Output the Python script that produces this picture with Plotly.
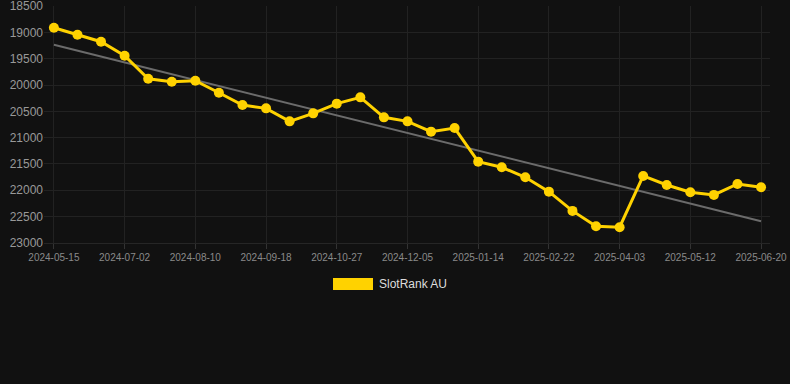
import numpy as np
import plotly.graph_objects as go

dates = [
    "2024-05-15", "2024-05-31", "2024-06-16", "2024-07-02", "2024-07-15",
    "2024-07-28", "2024-08-10", "2024-08-23", "2024-09-05", "2024-09-18",
    "2024-10-01", "2024-10-14", "2024-10-27", "2024-11-09", "2024-11-22",
    "2024-12-05", "2024-12-18", "2024-12-31", "2025-01-14", "2025-01-27",
    "2025-02-09", "2025-02-22", "2025-03-07", "2025-03-20", "2025-04-03",
    "2025-04-16", "2025-04-29", "2025-05-12", "2025-05-25", "2025-06-07",
    "2025-06-20",
]
rank_values = [
    18912, 19045, 19177, 19443, 19880, 19937, 19918, 20146, 20380, 20443,
    20690, 20538, 20354, 20234, 20614, 20690, 20886, 20817, 21456, 21563,
    21753, 22026, 22392, 22683, 22702, 21728, 21899, 22037, 22088, 21880,
    21943,
]
tick_labels = dates[::3]
y_ticks = [18500, 19000, 19500, 20000, 20500, 21000, 21500, 22000, 22500, 23000]
series_name = "SlotRank AU"

# linear trend (least squares) of the series
idx = np.arange(len(rank_values))
slope, intercept = np.polyfit(idx, rank_values, 1)
trend = slope * idx + intercept

GOLD = "#FFD200"
BG = "#111111"

fig = go.Figure()
fig.add_trace(go.Scatter(
    x=dates, y=trend, mode="lines",
    line=dict(color="#6b6b6b", width=2),
    hoverinfo="skip", showlegend=False,
))
fig.add_trace(go.Scatter(
    x=dates, y=rank_values, mode="lines+markers", name=series_name,
    line=dict(color=GOLD, width=3),
    marker=dict(color=GOLD, size=10),
    showlegend=False,
))

# legend (rectangle swatch + label)
fig.add_shape(type="rect", xref="paper", yref="paper",
              x0=(333 - 44) / 726, x1=(373 - 44) / 726,
              y0=(243 - 290) / 237, y1=(243 - 278) / 237,
              fillcolor=GOLD, line=dict(width=0))
fig.add_annotation(text=series_name, xref="paper", yref="paper",
                   x=(377 - 44) / 726, y=(243 - 284) / 237,
                   xanchor="left", yanchor="middle", showarrow=False,
                   font=dict(color="#dddddd", size=12, family="Arial, Liberation Sans, sans-serif"))

fig.update_layout(
    width=790, height=384,
    margin=dict(l=44, r=20, t=6, b=141),
    paper_bgcolor=BG, plot_bgcolor=BG,
    font=dict(family="Arial, Liberation Sans, sans-serif", color="#8a8a8a"),
    showlegend=False,
)
fig.update_xaxes(
    type="category", tickmode="array", tickvals=tick_labels, ticktext=tick_labels,
    range=[-0.42, 30.38],
    showgrid=True, gridcolor="#222222", gridwidth=1,
    ticks="outside", ticklen=5, tickcolor="#333333",
    tickfont=dict(size=10, color="#8a8a8a"),
    showline=True, linecolor="#262626", zeroline=False,
    ticklabeloverflow="allow", automargin=False,
)
fig.update_yaxes(
    range=[23002, 18498], tickmode="array", tickvals=y_ticks,
    ticktext=[str(v) for v in y_ticks],
    showgrid=True, gridcolor="#222222", gridwidth=1,
    tickfont=dict(size=12, color="#999999"),
    zeroline=False, showline=False, ticks="",
    ticklabeloverflow="allow", automargin=False,
)

fig.write_html(
    "out.html",
    config={"displayModeBar": False},
    post_script="document.body.style.margin='0';document.body.style.background='#111111';",
)
